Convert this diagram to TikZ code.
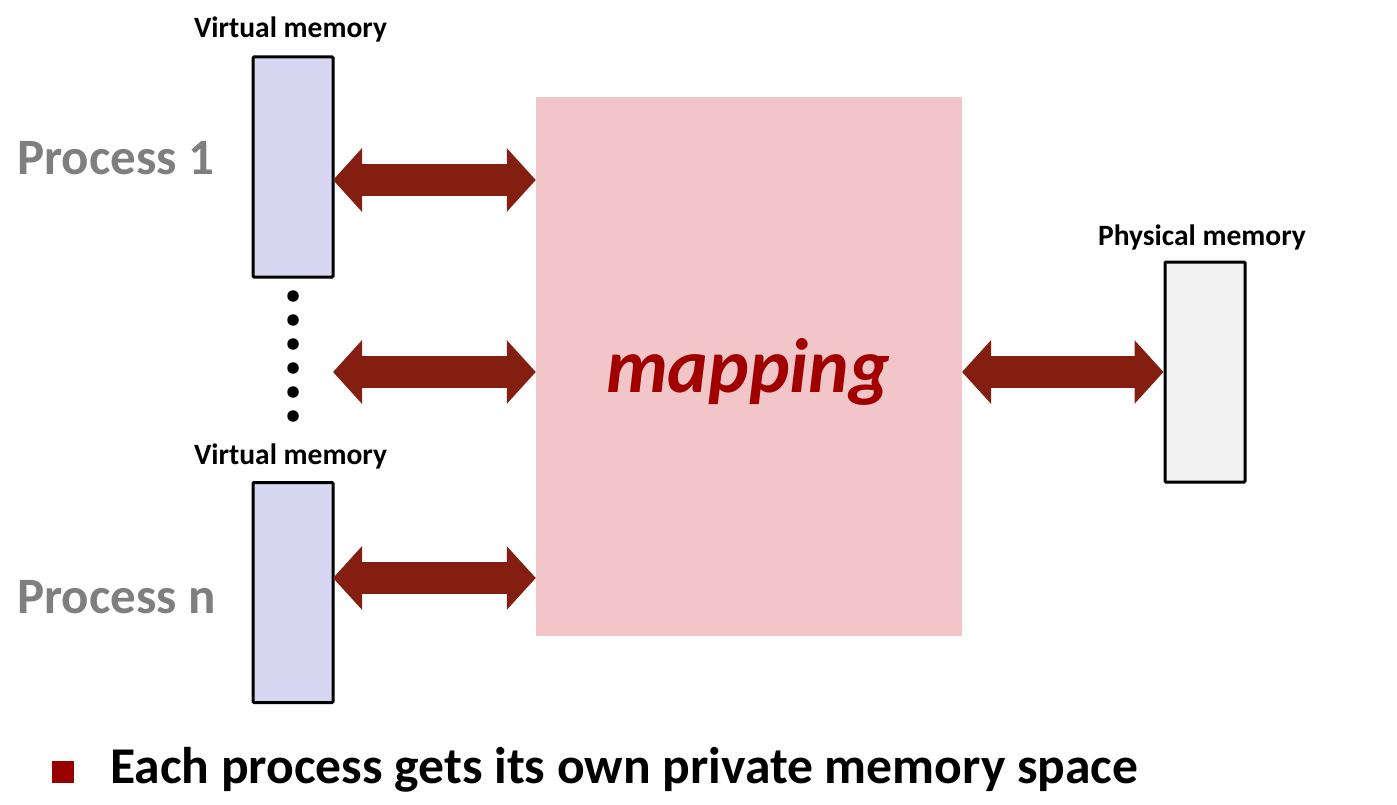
\documentclass[tikz,border=0pt]{standalone}
\usepackage{fontspec}
\setmainfont{Carlito}
\usetikzlibrary{arrows.meta}
\definecolor{vmfill}{RGB}{215,215,242}
\definecolor{pmfill}{RGB}{242,242,242}
\definecolor{mapfill}{RGB}{242,198,200}
\definecolor{arrowred}{RGB}{132,30,17}
\definecolor{maptext}{RGB}{160,0,0}
\definecolor{procgray}{RGB}{127,127,127}
\definecolor{bulletred}{RGB}{153,0,0}
\tikzset{
  membox/.style={draw=black, line width=3pt, minimum width=80pt, minimum height=220pt, inner sep=0pt, rounded corners=1pt},
  bigarrow/.style={draw=arrowred, line width=32pt,
    {Triangle[width=62pt,length=29pt,fill=arrowred]}-{Triangle[width=62pt,length=29pt,fill=arrowred]}},
  memlabel/.style={font=\bfseries\fontsize{29.5}{29.5}\selectfont, anchor=base, inner sep=0pt},
  proclabel/.style={font=\bfseries\fontsize{51}{51}\selectfont, text=procgray, anchor=base west, inner sep=0pt},
  dotmark/.style={circle, fill=black, minimum size=11.5pt, inner sep=0pt}
}
\begin{document}
\begin{tikzpicture}[x=1pt,y=-1pt]
\useasboundingbox (0,0) rectangle (1397,805);
% mapping area
\node[fill=mapfill, minimum width=426pt, minimum height=539pt, inner sep=0pt] (map) at (749,366.5) {};
\node[font=\bfseries\itshape\fontsize{77}{77}\selectfont, text=maptext, anchor=base, inner sep=0pt] (maptxt) at (748,392) {mapping};
% memory boxes
\node[membox, fill=vmfill] (vm1) at (293,167) {};
\node[membox, fill=vmfill] (vm2) at (293,592.5) {};
\node[membox, fill=pmfill] (pm) at (1205,372) {};
% labels
\node[memlabel] (vml1) at (290.5,38) {Virtual memory};
\node[memlabel] (vml2) at (290.5,464) {Virtual memory};
\node[memlabel] (pml) at (1202,245) {Physical memory};
\node[proclabel] (p1) at (17,175) {Process 1};
\node[proclabel] (pn) at (17,613) {Process n};
% dots
\foreach \i in {0,...,5} {
  \node[dotmark] (dot\i) at (293,296+24*\i) {};
}
% arrows
\coordinate (a1) at (333,180);
\coordinate (a2) at (333,372);
\coordinate (a3) at (333,578);
\coordinate (a4) at (962,372);
\draw[bigarrow] (a1) -- (a1 -| map.west);
\draw[bigarrow] (a2) -- (a2 -| map.west);
\draw[bigarrow] (a3) -- (a3 -| map.west);
\draw[bigarrow] (a4) -- (a4 -| pm.west);
% bullet
\node[fill=bulletred, minimum width=22pt, minimum height=22pt, inner sep=0pt] (bullet) at (63,772) {};
\node[font=\bfseries\fontsize{51.6}{51.6}\selectfont, anchor=base west, inner sep=0pt] (btxt) at (110,783) {Each process gets its own private memory space};
\end{tikzpicture}
\end{document}
